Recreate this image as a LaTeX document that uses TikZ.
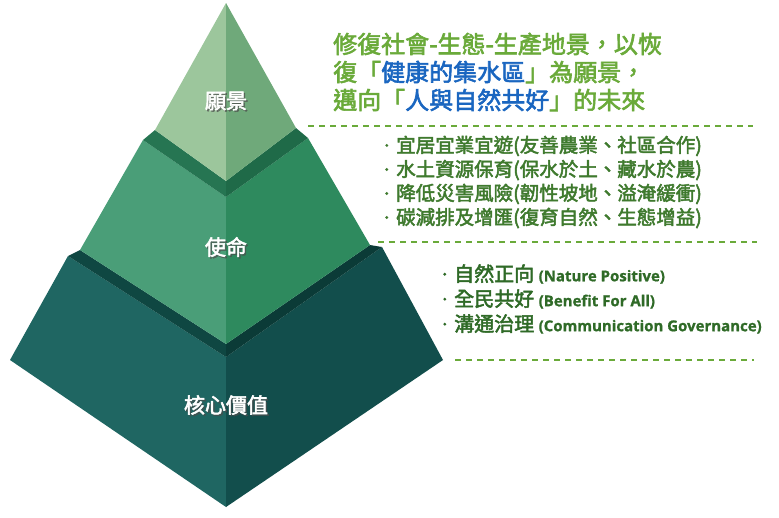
\documentclass[tikz,border=0pt]{standalone}
\usepackage{fontspec}
\setmainfont{Noto Sans CJK TC}
\newfontfamily\cjkb[FakeBold=2.5]{Noto Sans CJK TC}
\newfontfamily\latb[FakeBold=1]{Open Sans}
\definecolor{vl}{HTML}{9CC69C}\definecolor{vr}{HTML}{6FA97A}
\definecolor{ml}{HTML}{4A9E78}\definecolor{mr}{HTML}{2E8A5E}
\definecolor{bl}{HTML}{1F6662}\definecolor{br}{HTML}{124E4C}
\definecolor{b1l}{HTML}{267552}\definecolor{b1r}{HTML}{1F6A48}
\definecolor{b2l}{HTML}{0F4742}\definecolor{b2r}{HTML}{0B3B37}
\definecolor{tg}{HTML}{6AAA3A}\definecolor{tb}{HTML}{1A66C0}
\definecolor{lg}{HTML}{3F7A2E}\definecolor{dg}{HTML}{2F6A27}
\tikzset{
 lab/.style={text=white,font=\cjkb\fontsize{21}{21}\selectfont},
 shd/.style={text=black!70,opacity=0.6,font=\cjkb\fontsize{21}{21}\selectfont},
 head/.style={text=tg,anchor=west,inner sep=0pt,font=\cjkb\fontsize{24}{24}\selectfont},
 item/.style={text=lg,anchor=west,inner sep=0pt,font=\cjkb\fontsize{19.5}{19.5}\selectfont},
 itemb/.style={text=dg,anchor=west,inner sep=0pt,font=\cjkb\fontsize{20}{20}\selectfont},
 dl/.style={tg,line width=1.2pt,dash pattern=on 6pt off 5pt}
}
\newcommand\enp[1]{{\latb\bfseries\fontsize{15}{15}\selectfont #1}}
\newcommand\bul{\makebox[11pt][l]{\raisebox{0.5ex}{\tikz\fill (0,0) circle (1.6pt);}}}
\begin{document}
\begin{tikzpicture}[x=1pt,y=-1pt]
\useasboundingbox (0,0) rectangle (779,517);
% base
\fill[bl] (68,256)--(10,360)--(226,507)--(226,357)--cycle;
\fill[br] (382,247)--(443,360)--(226,507)--(226,357)--cycle;
% band2
\fill[b2l] (80,250)--(68,256)--(226,357)--(226,344)--cycle;
\fill[b2r] (370,245)--(382,247)--(226,357)--(226,344)--cycle;
% mission
\fill[ml] (143,140)--(80,250)--(226,344)--(226,197)--cycle;
\fill[mr] (308,138)--(370,245)--(226,344)--(226,197)--cycle;
% band1
\fill[b1l] (155,130)--(143,140)--(226,197)--(226,181)--cycle;
\fill[b1r] (296,128)--(308,138)--(226,197)--(226,181)--cycle;
% vision
\fill[vl] (226,3)--(155,130)--(226,181)--cycle;
\fill[vr] (226,3)--(296,128)--(226,181)--cycle;
% labels
\node[shd] at (227.5,102.5) {願景};
\node[lab] (v) at (226,101) {願景};
\node[shd] at (227.5,248.5) {使命};
\node[lab] (m) at (226,247) {使命};
\node[shd] at (227.5,406.5) {核心價值};
\node[lab] (c) at (226,405) {核心價值};
% heading
\node[head] (h1) at (333,44) {修復社會-生態-生產地景，以恢};
\node[head] (h2) at (333,72) {復「\textcolor{tb}{健康的集水區}」為願景，};
\node[head] (h3) at (333,100) {邁向「\textcolor{tb}{人與自然共好}」的未來};
\draw[dl] (308,126) -- (753,126);
\node[item] (i1) at (385,146) {\bul 宜居宜業宜遊(友善農業、社區合作)};
\node[item] (i2) at (385,170) {\bul 水土資源保育(保水於土、藏水於農)};
\node[item] (i3) at (385,194) {\bul 降低災害風險(韌性坡地、溢淹緩衝)};
\node[item] (i4) at (385,218) {\bul 碳減排及增匯(復育自然、生態增益)};
\draw[dl] (378,242) -- (757,242);
\node[itemb] (k1) at (443,274) {\bul 自然正向 \enp{(Nature Positive)}};
\node[itemb] (k2) at (443,299) {\bul 全民共好 \enp{(Benefit For All)}};
\node[itemb] (k3) at (443,324) {\bul 溝通治理 \enp{(Communication Governance)}};
\draw[dl] (455,360) -- (754,360);
\end{tikzpicture}
\end{document}
